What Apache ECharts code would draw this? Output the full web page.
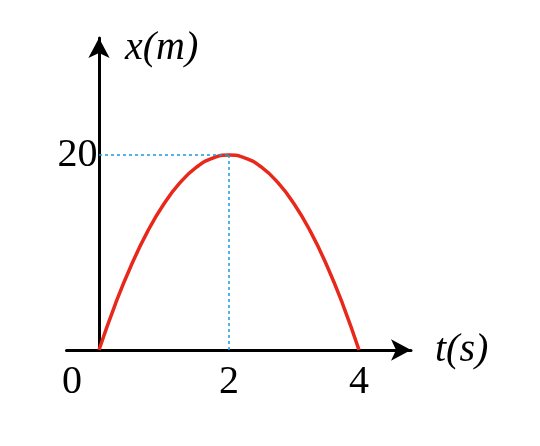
<!DOCTYPE html>
<html><head><meta charset="utf-8">
<script src="https://cdn.jsdelivr.net/npm/echarts@6/dist/echarts.min.js"></script>
<style>html,body{margin:0;background:#fff}#c{width:540px;height:446px}</style>
</head><body><div id="c"></div>
<script>
const tValues = [0,0.25,0.5,0.75,1,1.25,1.5,1.75,2,2.25,2.5,2.75,3,3.25,3.5,3.75,4];
const xValues = [0,4.69,8.75,12.19,15,17.19,18.75,19.69,20,19.69,18.75,17.19,15,12.19,8.75,4.69,0];
const xTickLabels = [2,4];
const yTickLabels = [20];
const peak = [2,20];
const font = 'Liberation Serif';
const chart = echarts.init(document.getElementById('c'));
chart.setOption({
  animation:false,
  grid:{left:66.5,width:344.5,top:38,height:312},
  xAxis:{type:'value',min:-0.5,max:4.8,splitLine:{show:false},
    axisLine:{onZero:true,symbol:['none','arrow'],symbolSize:[16,20],lineStyle:{color:'#000',width:3}},
    axisTick:{show:false},
    axisLabel:{customValues:xTickLabels,color:'#000',fontSize:40,fontFamily:font,margin:12},
    name:'t(s)',nameGap:24,nameTextStyle:{fontSize:40,fontFamily:font,fontStyle:'italic',color:'#000'}},
  yAxis:{type:'value',min:0,max:32,splitLine:{show:false},
    axisLine:{onZero:true,symbol:['none','arrow'],symbolSize:[16,20],lineStyle:{color:'#000',width:3}},
    axisTick:{show:false},
    axisLabel:{customValues:yTickLabels,color:'#000',fontSize:40,fontFamily:font,margin:-31},
    name:'x(m)',nameGap:-10,nameLocation:'end',
    nameTextStyle:{fontSize:40,fontFamily:font,fontStyle:'italic',color:'#000',align:'left',verticalAlign:'middle',padding:[0,0,0,26]}},
  graphic:[{type:'text',left:62,top:362,style:{text:'0',font:'40px "Liberation Serif"',fill:'#000'}}],
  series:[{type:'line',data:tValues.map((t,i)=>[t,xValues[i]]),smooth:true,showSymbol:false,
    lineStyle:{color:'#e8281a',width:3.5},z:3,
    markLine:{silent:true,symbol:'none',label:{show:false},
      lineStyle:{color:'#1a9ae0',type:[3,3],width:1.5},
      data:[[{coord:[0,peak[1]]},{coord:peak}],[{coord:[peak[0],0]},{coord:peak}]]}}]
});
</script></body></html>
